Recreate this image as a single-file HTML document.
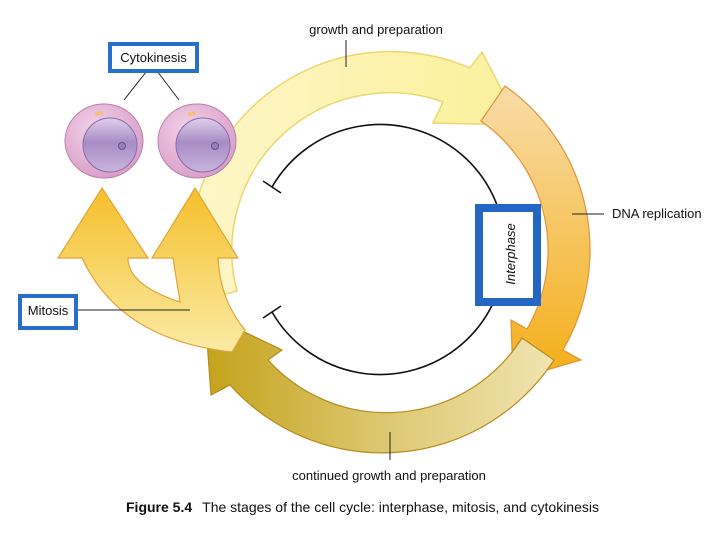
<!DOCTYPE html>
<html><head><meta charset="utf-8"><style>
body{margin:0;background:#fff;width:720px;height:540px;overflow:hidden;font-family:"Liberation Sans",sans-serif;}
</style></head><body>
<svg width="720" height="540" viewBox="0 0 720 540" xmlns="http://www.w3.org/2000/svg">
<defs>
<linearGradient id="gy" x1="0" y1="0" x2="1" y2="0"><stop offset="0" stop-color="#fdf6c8"/><stop offset="1" stop-color="#fbf09a"/></linearGradient>
<linearGradient id="go" x1="0" y1="0" x2="0" y2="1"><stop offset="0" stop-color="#f8dca8"/><stop offset="1" stop-color="#f4ae18"/></linearGradient>
<linearGradient id="gl" x1="0" y1="0" x2="1" y2="0"><stop offset="0" stop-color="#c4a21a"/><stop offset="0.5" stop-color="#dcc770"/><stop offset="1" stop-color="#f0e4b0"/></linearGradient>
<linearGradient id="gm" x1="0" y1="0" x2="0" y2="1"><stop offset="0" stop-color="#f5bf2a"/><stop offset="1" stop-color="#fbeba6"/></linearGradient>
<radialGradient id="gc" cx="0.4" cy="0.35" r="0.7"><stop offset="0" stop-color="#f3d3e8"/><stop offset="1" stop-color="#d89cc8"/></radialGradient>
<linearGradient id="gn" x1="0" y1="0" x2="0" y2="1"><stop offset="0" stop-color="#e0d0ec"/><stop offset="0.45" stop-color="#a88cc4"/><stop offset="1" stop-color="#c8b4dc"/></linearGradient>
</defs>
<path d="M197 302 A200 200 0 0 1 470 68 L482 52 L520 125 L433 123 L443 102 A158 158 0 0 0 237 291 Z" fill="url(#gy)" stroke="#ecd870" stroke-width="1.5"/>
<path d="M505 86 A200 200 0 0 1 563 350 L581 360 L513 380 L511 320 L527 329 A158 158 0 0 0 481 121 Z" fill="url(#go)" stroke="#e0953a" stroke-width="1.2"/>
<path d="M554 360 A205 205 0 0 1 230 385 L211 395 L205 313 L282 350 L268 360 A160 160 0 0 0 522 338 Z" fill="url(#gl)" stroke="#b88a20" stroke-width="1.2"/>
<path d="M102 188 L148 258 L128 258 Q128 285 180 302 L173 258 L152 258 L195 188 L238 258 L218 258 Q220 300 245 330 L232 352 Q120 340 82 258 L58 258 Z" fill="url(#gm)" stroke="#e2a43a" stroke-width="1.2"/>
<path d="M272 187 A125 125 0 1 1 272 312" fill="none" stroke="#111" stroke-width="1.6"/>
<line x1="263" y1="181" x2="281" y2="193" stroke="#111" stroke-width="1.6"/>
<line x1="263" y1="318" x2="281" y2="306" stroke="#111" stroke-width="1.6"/>
<ellipse cx="104" cy="141" rx="39" ry="37" fill="url(#gc)" stroke="#b880a8"/>
<circle cx="110" cy="145" r="27" fill="url(#gn)" stroke="#8a6aa8"/>
<circle cx="122" cy="146" r="3.5" fill="#9a80b8" stroke="#6a5090"/>
<circle cx="97" cy="114" r="2" fill="#f4c070"/><circle cx="101" cy="113" r="2" fill="#f4c070"/>
<ellipse cx="197" cy="141" rx="39" ry="37" fill="url(#gc)" stroke="#b880a8"/>
<circle cx="203" cy="145" r="27" fill="url(#gn)" stroke="#8a6aa8"/>
<circle cx="215" cy="146" r="3.5" fill="#9a80b8" stroke="#6a5090"/>
<circle cx="190" cy="114" r="2" fill="#f4c070"/><circle cx="194" cy="113" r="2" fill="#f4c070"/>
<line x1="150" y1="67" x2="124" y2="100" stroke="#222"/>
<line x1="154" y1="67" x2="179" y2="100" stroke="#222"/>
<line x1="77" y1="310" x2="190" y2="310" stroke="#222"/>
<line x1="346" y1="40" x2="346" y2="67" stroke="#222"/>
<line x1="572" y1="214" x2="604" y2="214" stroke="#222"/>
<line x1="390" y1="432" x2="390" y2="460" stroke="#222"/>
<rect x="110" y="44" width="87" height="27" fill="#fff" stroke="#2a6ecc" stroke-width="4"/>
<text x="153.5" y="62" font-size="13" text-anchor="middle" fill="#111">Cytokinesis</text>
<rect x="20" y="296" width="56" height="32" fill="#fff" stroke="#2a6ecc" stroke-width="4"/>
<text x="48" y="315" font-size="13" text-anchor="middle" fill="#111">Mitosis</text>
<rect x="479" y="208" width="58" height="94" fill="#fff" stroke="#2466c4" stroke-width="8"/>
<text transform="translate(515 254) rotate(-90)" font-size="13" font-style="italic" text-anchor="middle" fill="#111">Interphase</text>
<text x="376" y="34" font-size="13" text-anchor="middle" fill="#111">growth and preparation</text>
<text x="612" y="218" font-size="13" fill="#111">DNA replication</text>
<text x="389" y="480" font-size="13" text-anchor="middle" fill="#111">continued growth and preparation</text>
<text x="126" y="512" font-size="14" fill="#111"><tspan font-weight="bold">Figure 5.4</tspan><tspan dx="10">The stages of the cell cycle: interphase, mitosis, and cytokinesis</tspan></text>
</svg>
</body></html>
